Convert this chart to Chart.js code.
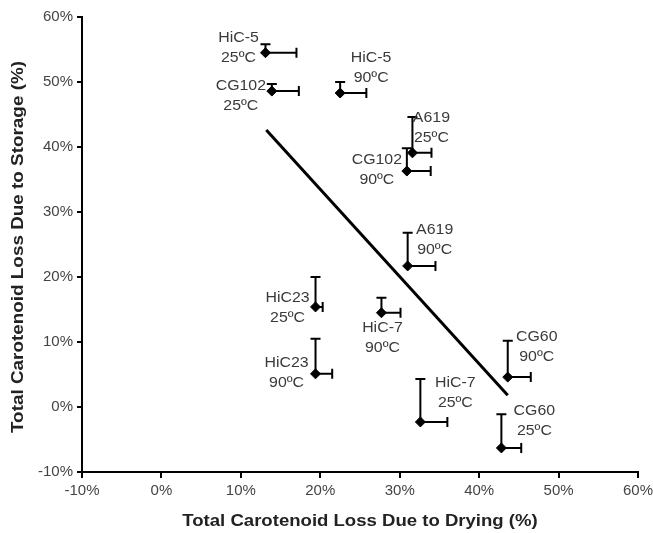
<!DOCTYPE html>
<html>
<head>
<meta charset="utf-8">
<script src="https://cdn.jsdelivr.net/npm/chart.js@4/dist/chart.umd.min.js"></script>
<style>
  html, body { margin: 0; padding: 0; background: #fff; }
  #wrap { width: 653px; height: 533px; }
</style>
</head>
<body>
<div id="wrap"><canvas id="scatterChart" width="653" height="533"></canvas></div>
<script>
// sample names and storage temperature
var nombres  = ['HiC-5', 'CG102', 'HiC-5', 'A619', 'CG102', 'A619', 'HiC23', 'HiC-7', 'HiC23', 'HiC-7', 'CG60', 'CG60'];
var temps    = ['25ºC', '25ºC', '90ºC', '25ºC', '90ºC', '90ºC', '25ºC', '90ºC', '90ºC', '25ºC', '90ºC', '25ºC'];
// loss due to drying (x) and to storage (y), in %
var secado   = [13.1, 13.9, 22.5, 31.6, 30.9, 31.0, 19.4, 27.7, 19.4, 32.6, 43.6, 42.8];
var almacen  = [54.5, 48.6, 48.3, 39.1, 36.3, 21.7, 15.4, 14.5, 5.1, -2.3, 4.6, -6.3];
// one sided error bars
var errSecado  = [3.9, 3.4, 3.3, 2.4, 3.0, 3.5, 0.9, 2.4, 2.1, 3.4, 2.9, 2.5];
var errAlmacen = [1.3, 1.1, 1.7, 5.5, 3.5, 5.1, 4.6, 2.3, 5.4, 6.6, 5.6, 5.2];
// trend line
var tendX = [13.2, 43.6];
var tendY = [42.6, 1.8];
// axis ticks
var ticksX = [-10, 0, 10, 20, 30, 40, 50, 60];
var ticksY = [-10, 0, 10, 20, 30, 40, 50, 60];
var tituloX = 'Total Carotenoid Loss Due to Drying (%)';
var tituloY = 'Total Carotenoid Loss Due to Storage (%)';

// where each label sits relative to its point (px)
var offsets = [[-27,-15],[-31,-5],[31,-35],[19,-35],[-30,-11],[27,-36],[-28,-9],[1,15],[-29,-11],[35,-39],[29,-40],[33,-37]];

var puntos = secado.map(function (v, i) { return { x: v, y: almacen[i] }; });
var linea  = tendX.map(function (v, i) { return { x: v, y: tendY[i] }; });
var fuente = '"Liberation Sans", Arial, sans-serif';

var errorBars = {
  id: 'errorBars',
  afterDatasetsDraw: function (chart) {
    var ctx = chart.ctx, sx = chart.scales.x, sy = chart.scales.y;
    ctx.save();
    ctx.strokeStyle = '#000';
    ctx.lineWidth = 2;
    for (var i = 0; i < secado.length; i++) {
      var px = sx.getPixelForValue(secado[i]);
      var py = sy.getPixelForValue(almacen[i]);
      var ex = sx.getPixelForValue(secado[i] + errSecado[i]);
      var ey = sy.getPixelForValue(almacen[i] + errAlmacen[i]);
      ctx.beginPath();
      ctx.moveTo(px, py); ctx.lineTo(ex, py);
      ctx.moveTo(ex, py - 5); ctx.lineTo(ex, py + 5);
      ctx.moveTo(px, py); ctx.lineTo(px, ey);
      ctx.moveTo(px - 5, ey); ctx.lineTo(px + 5, ey);
      ctx.stroke();
    }
    ctx.restore();
  }
};

var etiquetas = {
  id: 'etiquetas',
  afterDatasetsDraw: function (chart) {
    var ctx = chart.ctx, sx = chart.scales.x, sy = chart.scales.y, a = chart.chartArea;
    ctx.save();
    ctx.font = '15px ' + fuente;
    ctx.fillStyle = '#3a3a3a';
    ctx.textAlign = 'center';
    ctx.textBaseline = 'middle';
    for (var i = 0; i < nombres.length; i++) {
      var px = sx.getPixelForValue(secado[i]) + offsets[i][0];
      var py = sy.getPixelForValue(almacen[i]) + offsets[i][1];
      ctx.save();
      ctx.translate(px, py);
      ctx.scale(1.06, 1);
      ctx.fillText(nombres[i], 0, 0);
      ctx.fillText(temps[i], 0, 20);
      ctx.restore();
    }
    // axis titles (text a bit wider than tall, as in the original)
    ctx.font = 'bold 16px ' + fuente;
    ctx.fillStyle = '#222';
    ctx.save();
    ctx.translate((a.left + a.right) / 2, 522);
    ctx.scale(1.16, 1);
    ctx.fillText(tituloX, 0, 0);
    ctx.restore();
    ctx.save();
    ctx.translate(19, 247);
    ctx.rotate(-Math.PI / 2);
    ctx.scale(1.18, 1);
    ctx.fillText(tituloY, 0, 0);
    ctx.restore();
    ctx.restore();
  }
};

var ctx = document.getElementById('scatterChart').getContext('2d');
new Chart(ctx, {
  type: 'scatter',
  data: {
    datasets: [
      {
        label: 'muestras',
        data: puntos,
        pointStyle: 'rectRot',
        pointRadius: 5,
        backgroundColor: '#000',
        borderColor: '#000',
        order: 1
      },
      {
        label: 'tendencia',
        type: 'line',
        data: linea,
        borderColor: '#000',
        borderWidth: 3,
        pointRadius: 0,
        fill: false,
        order: 2
      }
    ]
  },
  options: {
    responsive: false,
    animation: false,
    layout: { padding: { top: 17, right: 15, left: 0, bottom: 0 } },
    plugins: { legend: { display: false }, tooltip: { enabled: false } },
    scales: {
      x: {
        type: 'linear',
        min: -10, max: 60,
        afterBuildTicks: function (s) { s.ticks = ticksX.map(function (v) { return { value: v }; }); },
        afterFit: function (s) { s.height = 61; s.paddingLeft = 0; s.paddingRight = 0; },
        grid: { drawOnChartArea: false, drawTicks: true, tickLength: 6, color: '#000', lineWidth: 2 },
        border: { color: '#000', width: 2 },
        ticks: {
          padding: 4,
          color: '#444',
          font: { family: fuente, size: 15 },
          callback: function (v) { return v + '%'; }
        }
      },
      y: {
        type: 'linear',
        min: -10, max: 60,
        afterBuildTicks: function (s) { s.ticks = ticksY.map(function (v) { return { value: v }; }); },
        afterFit: function (s) { s.width = 82; s.paddingTop = 0; s.paddingBottom = 0; },
        grid: { drawOnChartArea: false, drawTicks: true, tickLength: 5, color: '#000', lineWidth: 2 },
        border: { color: '#000', width: 2 },
        ticks: {
          padding: 4,
          color: '#444',
          font: { family: fuente, size: 15 },
          callback: function (v) { return v + '%'; }
        }
      }
    }
  },
  plugins: [errorBars, etiquetas]
});
</script>
</body>
</html>
